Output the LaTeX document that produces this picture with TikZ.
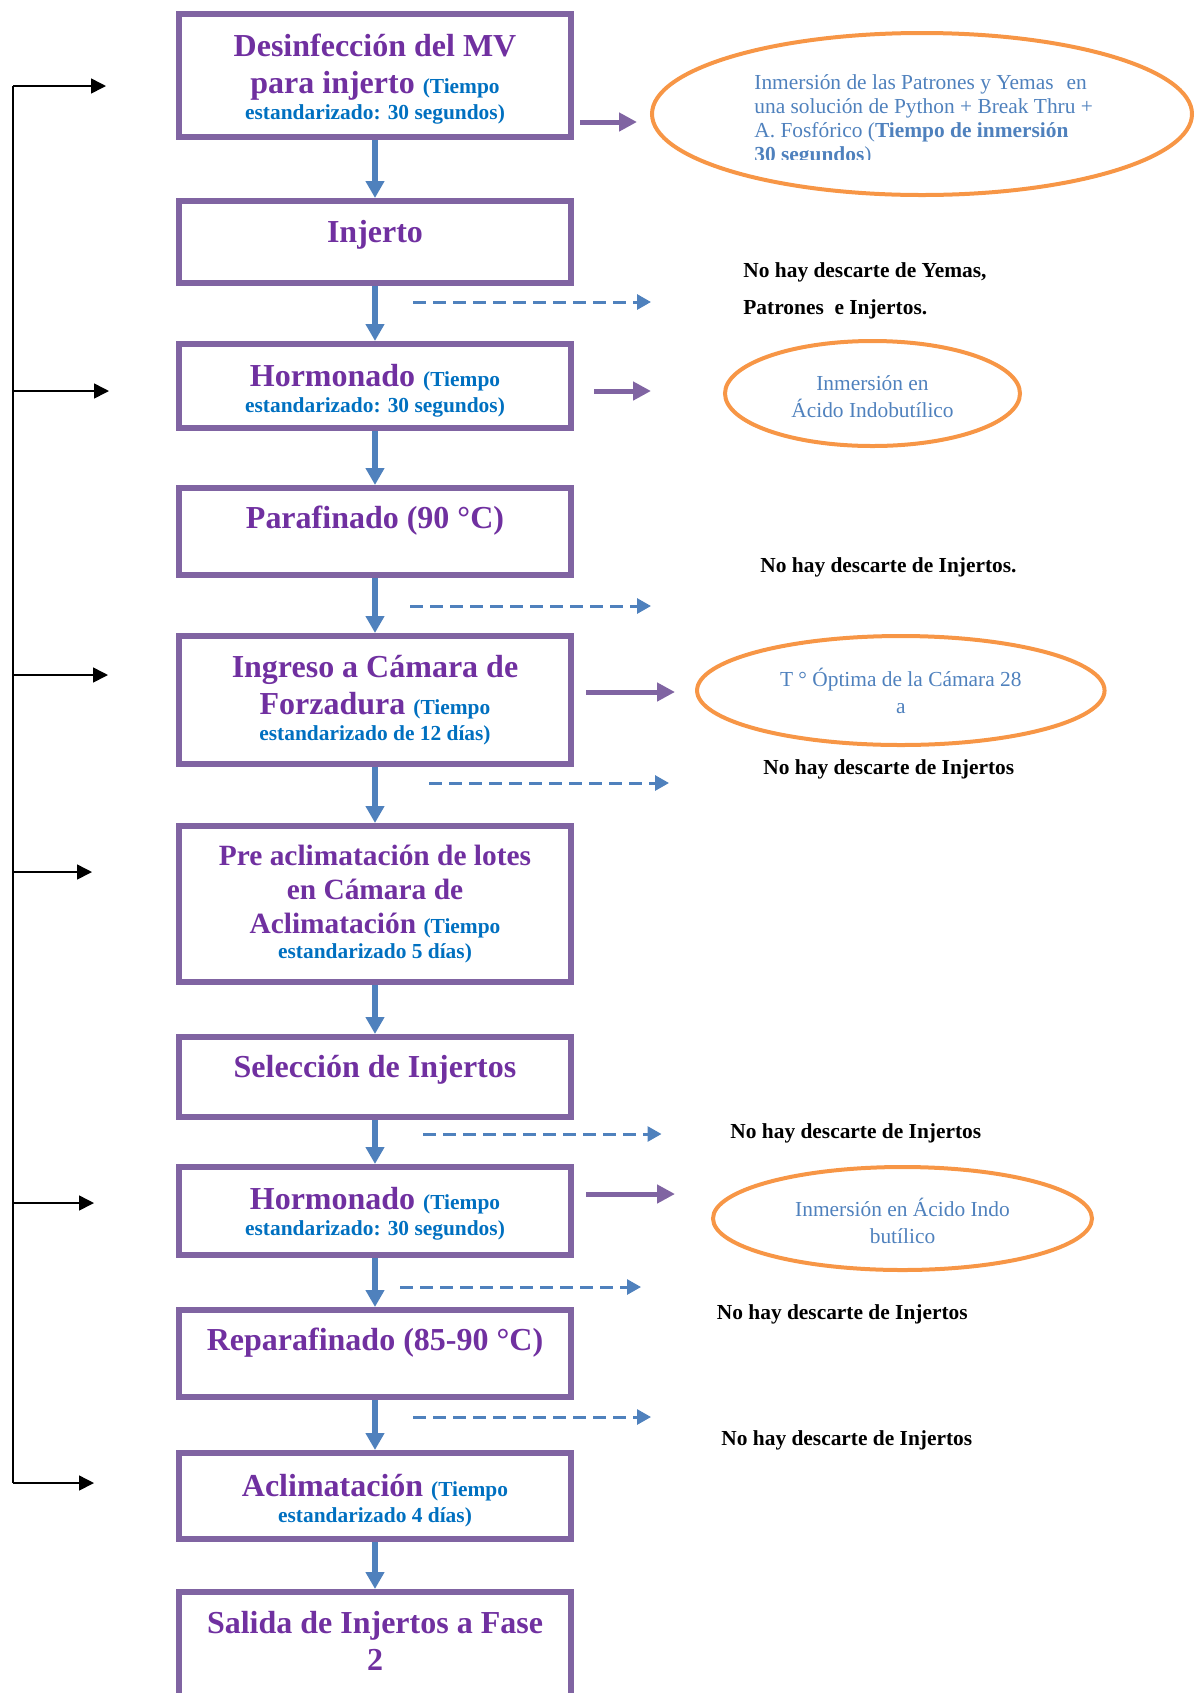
\documentclass[tikz,border=0pt]{standalone}
\usepackage{fontspec}
\setmainfont{Liberation Serif}
\usepackage{xcolor}
\usepackage{tikz}
\usetikzlibrary{positioning}
\usetikzlibrary{shapes.geometric}
\usetikzlibrary{arrows.meta}

\definecolor{moradoborde}{HTML}{8064A2}
\definecolor{moradotexto}{HTML}{7030A0}
\definecolor{azultiempo}{HTML}{0070C0}
\definecolor{azulflecha}{HTML}{4F81BD}
\definecolor{naranja}{HTML}{F79646}

\newcommand{\tiempo}[1]{{\fontsize{10.7}{12}\selectfont\color{azultiempo}#1}}
\newcommand{\alto}[1]{\rule{0pt}{#1}}

\begin{document}
\begin{tikzpicture}
    [%%%%%%%%%%%%%%%%%%%%%%%%%%%%%%
        x=1pt, y=-1pt,
        paso/.style={rectangle, draw=moradoborde, line width=3pt, minimum width=196pt, inner sep=0pt,
            align=center, text=moradotexto, font=\fontsize{16}{18.5}\selectfont\bfseries},
        unalinea/.style={text height=12pt, text depth=15.5pt},
        baja/.style={-{Triangle[length=8.5pt,width=9pt]}, draw=azulflecha, line width=2.6pt},
        lateral/.style={-{Triangle[length=9pt,width=9pt]}, draw=moradoborde, line width=2.5pt},
        descarte/.style={-{Triangle[length=7pt,width=7.5pt]}, draw=azulflecha, line width=1.5pt, dash pattern=on 6.5pt off 3.5pt},
        retorno/.style={-{Triangle[length=7.5pt,width=7.5pt]}, line width=0.8pt},
        burbuja/.style={ellipse, draw=naranja, line width=2pt, inner sep=0pt, align=center,
            text=azulflecha, font=\fontsize{10.7}{13.5}\selectfont},
        nota/.style={anchor=west, inner sep=0pt, align=left, font=\fontsize{10.7}{18.5}\selectfont\bfseries}
    ]%%%%%%%%%%%%%%%%%%%%%%%%%%%%%%
\useasboundingbox (0,0) rectangle (601,846.5);
\clip (0,0) rectangle (601,846.5);

% pasos del proceso
\node[paso, minimum height=61.5pt] (desinf) at (187.5,37.75)
    {\alto{15.3pt}Desinfección del MV\\ para injerto \tiempo{(Tiempo}\\[-5.5pt] \tiempo{estandarizado: 30 segundos)}};
\node[paso, unalinea, text depth=11.5pt, minimum height=41pt] (injerto) at (187.5,121) {Injerto};
\node[paso, minimum height=42pt] (hormona1) at (187.5,193)
    {\alto{15.8pt}Hormonado \tiempo{(Tiempo}\\[-5.5pt] \tiempo{estandarizado: 30 segundos)}};
\node[paso, unalinea, minimum height=43.5pt] (parafina) at (187.5,265.75) {Parafinado (90 °C)};
\node[paso, minimum height=64pt] (camara) at (187.5,350)
    {Ingreso a Cámara de\\ Forzadura \tiempo{(Tiempo}\\[-5.5pt] \tiempo{estandarizado de 12 días)}};
\node[paso, minimum height=78pt, font=\fontsize{14.7}{17}\selectfont\bfseries] (preaclim) at (187.5,452)
    {Pre aclimatación de lotes\\ en Cámara de\\ Aclimatación \tiempo{(Tiempo}\\[-4.5pt] \tiempo{estandarizado 5 días)}};
\node[paso, unalinea, text depth=11.5pt, minimum height=40pt] (seleccion) at (187.5,538.5) {Selección de Injertos};
\node[paso, minimum height=44pt] (hormona2) at (187.5,605.5)
    {\alto{14.1pt}Hormonado \tiempo{(Tiempo}\\[-5.5pt] \tiempo{estandarizado: 30 segundos)}};
\node[paso, unalinea, minimum height=43.5pt] (reparafina) at (187.5,676.75) {Reparafinado (85-90 °C)};
\node[paso, minimum height=43pt] (aclim) at (187.5,748)
    {\alto{15.8pt}Aclimatación \tiempo{(Tiempo}\\[-5.5pt] \tiempo{estandarizado 4 días)}};
\node[paso, minimum height=90pt, text depth=40.8pt] (salida) at (187.5,841)
    {Salida de Injertos a Fase\\ 2};

\foreach \a/\b in {desinf/injerto, injerto/hormona1, hormona1/parafina, parafina/camara,
    camara/preaclim, preaclim/seleccion, seleccion/hormona2, hormona2/reparafina,
    reparafina/aclim, aclim/salida}{
    \draw[baja] (\a) -- (\b);
}

% elipses
\node[burbuja, minimum width=270pt, minimum height=81pt] (burb1) at (461,57) {};
\begin{scope}
    \clip (370,30) rectangle (560,79.5);
    \node[anchor=north west, inner sep=0pt, align=left, text=azulflecha,
        font=\fontsize{10.7}{12}\selectfont] (texto1) at (377,37.2)
        {Inmersión de las Patrones y Yemas\hspace{6.5pt}en\\
         una solución de Python + Break Thru +\\
         A. Fosfórico (\textbf{Tiempo de inmersión}\\
         \textbf{30 segundos})};
\end{scope}
\node[burbuja, minimum width=147.5pt, minimum height=52.5pt] (burb2) at (436.25,196.75)
    {\alto{10.5pt}Inmersión en\\ Ácido Indobutílico};
\node[burbuja, minimum width=203.75pt, minimum height=54.5pt] (burb3) at (450.4,345.25)
    {T ° Óptima de la Cámara 28\\ a};
\node[burbuja, minimum width=189.5pt, minimum height=51.5pt] (burb4) at (451.25,609.25)
    {\alto{11.8pt}Inmersión en Ácido Indo\\ butílico};

% notas
\node[nota] (nota1) at (371.5,145.5) {No hay descarte de Yemas,\\ Patrones\ \ e Injertos.};
\node[nota] (nota2) at (380,283.5) {No hay descarte de Injertos.};
\node[nota] (nota3) at (381.5,384.5) {No hay descarte de Injertos};
\node[nota] (nota4) at (365,566.5) {No hay descarte de Injertos};
\node[nota] (nota5) at (358.25,657) {No hay descarte de Injertos};
\node[nota] (nota6) at (360.5,720) {No hay descarte de Injertos};

% flechas moradas
\foreach \i/\xa/\xb/\y in {1/290/318.5/61, 2/297/325.5/195.5, 3/293/337.5/346, 4/293/337.5/597}{
    \coordinate (ma\i) at (\xa,\y);
    \coordinate (mb\i) at (\xb,\y);
    \draw[lateral] (ma\i) -- (mb\i);
}

% flechas de descarte
\foreach \i/\xa/\xb/\y in {1/206.5/325.5/151, 2/205/325.5/303, 3/214.5/334.5/391.5,
    4/211.5/330.75/567, 5/200/320.5/643.5, 6/206.5/325.5/708.5}{
    \coordinate (da\i) at (\xa,\y);
    \coordinate (db\i) at (\xb,\y);
    \draw[descarte] (da\i) -- (db\i);
}

% retorno a la izquierda
\coordinate (arriba) at (6.5,43);
\coordinate (abajo) at (6.5,741.5);
\draw[line width=0.8pt] (arriba) -- (abajo);
\foreach \i/\t/\y in {1/53/43, 2/54.5/195.5, 3/54/337.5, 4/46/436, 5/47/601.5, 6/47/741.5}{
    \coordinate (ra\i) at (6.5,\y);
    \coordinate (rb\i) at (\t,\y);
    \draw[retorno] (ra\i) -- (rb\i);
}

\end{tikzpicture}
\end{document}
